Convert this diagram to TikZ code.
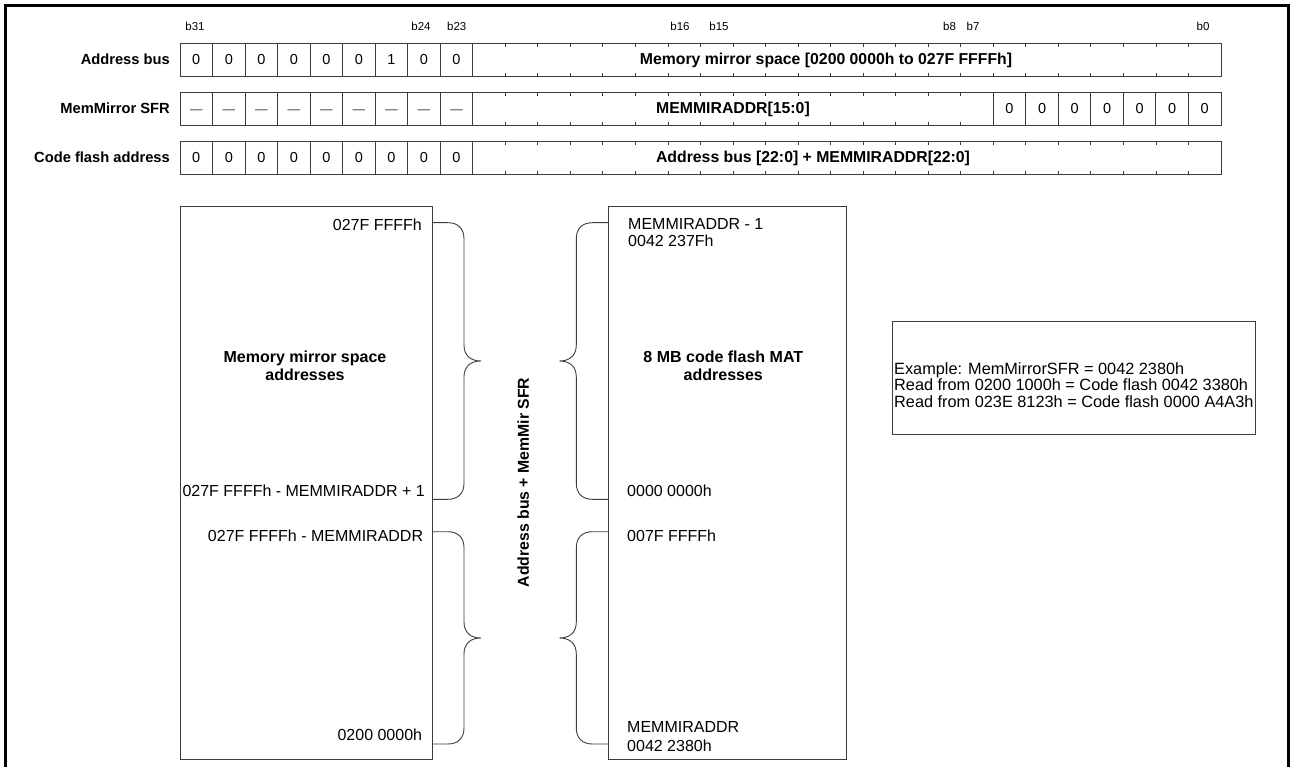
\documentclass[tikz,border=0pt]{standalone}
\usepackage{fontspec}
\setmainfont{Liberation Sans}
\definecolor{lc}{RGB}{60,60,60}
\definecolor{dc}{RGB}{50,50,50}
\newcommand{\mybrace}[5]{%
  \draw[bl] (#1,#3) -- ({#1+#2*16},#3) .. controls ({#1+#2*26},#3) and ({#1+#2*32},{#3+6}) .. ({#1+#2*32},{#3+16})
    -- ({#1+#2*32},{#4-16}) .. controls ({#1+#2*32},{#4-6}) and ({#1+#2*38},#4) .. ({#1+#2*49},#4)
    .. controls ({#1+#2*38},#4) and ({#1+#2*32},{#4+6}) .. ({#1+#2*32},{#4+16})
    -- ({#1+#2*32},{#5-16}) .. controls ({#1+#2*32},{#5-6}) and ({#1+#2*26},#5) .. ({#1+#2*16},#5) -- (#1,#5);}
\begin{document}
\begin{tikzpicture}[x=1pt,y=-1pt,
  cell/.style={draw=lc, line width=0.9pt, minimum width=32.53pt, minimum height=32.5pt, inner sep=0pt, outer sep=0pt, font=\fontsize{14.5}{16}\selectfont},
  dashtxt/.style={anchor=base, inner sep=0pt, text=dc, font=\fontsize{12.5}{14}\selectfont},
  tickline/.style={draw=lc, line width=0.8pt},
  bitlbl/.style={anchor=base, inner sep=0pt, font=\fontsize{11.5}{13}\selectfont},
  rowlbl/.style={anchor=base east, inner sep=0pt, font=\bfseries\fontsize{14.7}{16}\selectfont},
  mtxt/.style={anchor=base, inner sep=0pt, font=\bfseries\fontsize{15.8}{17}\selectfont},
  rtxt/.style={inner sep=0pt, font=\fontsize{16}{17}\selectfont},
  btxt/.style={anchor=base, inner sep=0pt, font=\bfseries\fontsize{16}{17}\selectfont},
  membox/.style={draw=lc, line width=0.9pt, inner sep=0pt, outer sep=0pt},
  bl/.style={draw=lc, line width=0.9pt}]
\useasboundingbox (0,0) rectangle (1290,767);
% outer frame
\draw[line width=2.8pt] (5.3,775) -- (5.3,5.3) -- (1288.4,5.3) -- (1288.4,775);
% bit labels
\node[bitlbl] (b31) at (195,31) {b31};
\node[bitlbl] (b24) at (421,31) {b24};
\node[bitlbl] (b23) at (456.7,31) {b23};
\node[bitlbl] (b16) at (680,31) {b16};
\node[bitlbl] (b15) at (719,31) {b15};
\node[bitlbl] (b8) at (949.5,31) {b8};
\node[bitlbl] (b7) at (973,31) {b7};
\node[bitlbl] (b0) at (1203,31) {b0};
% row labels
\node[rowlbl] (lab1) at (170,64.3) {Address bus};
\node[rowlbl] (lab2) at (170,113.3) {MemMirror SFR};
\node[rowlbl] (lab3) at (170,162.3) {Code flash address};
% row 1
\foreach \v [count=\i from 0] in {0,0,0,0,0,0,1,0,0}
  \node[cell] (ab\i) at ({180+(\i+0.5)*32.53},59.75) {\v};
\node[cell, minimum width=748.19pt] (abm) at (846.865,59.75) {};
\node[mtxt] (abt) at (826,64.5) {Memory mirror space [0200 0000h to 027F FFFFh]};
% row 2
\foreach \i in {0,...,8} {
  \node[cell] (mm\i) at ({180+(\i+0.5)*32.53},108.75) {};
  \node[dashtxt] (md\i) at ({180+(\i+0.5)*32.53},113.8) {—};
}
\node[cell, minimum width=520.48pt] (mmm) at (733.01,108.75) {};
\node[mtxt] (mmt) at (733,113.5) {MEMMIRADDR[15:0]};
\foreach \i in {25,...,31}
  \node[cell] (mz\i) at ({180+(\i+0.5)*32.53},108.75) {0};
% row 3
\foreach \i in {0,...,8}
  \node[cell] (cf\i) at ({180+(\i+0.5)*32.53},157.75) {0};
\node[cell, minimum width=748.19pt] (cfm) at (846.865,157.75) {};
\node[mtxt] (cft) at (813,162.5) {Address bus [22:0] + MEMMIRADDR[22:0]};
% ticks
\foreach \k in {10,...,31} {
  \draw[tickline] ({180+\k*32.53},43.5) -- ++(0,3.3);
  \draw[tickline] ({180+\k*32.53},76) -- ++(0,-3.3);
  \draw[tickline] ({180+\k*32.53},141.5) -- ++(0,3.3);
  \draw[tickline] ({180+\k*32.53},174) -- ++(0,-3.3);
}
\foreach \k in {10,...,24} {
  \draw[tickline] ({180+\k*32.53},92.5) -- ++(0,3.3);
  \draw[tickline] ({180+\k*32.53},125) -- ++(0,-3.3);
}
% memory boxes
\node[membox, minimum width=252pt, minimum height=553pt] (lbox) at (306,482.5) {};
\node[membox, minimum width=238.7pt, minimum height=553pt] (rbox) at (727.35,482.5) {};
% left box texts
\node[rtxt, anchor=base east] (l1) at (422,230.5) {027F FFFFh};
\node[btxt] (l2) at (305,362.5) {Memory mirror space};
\node[btxt] (l3) at (305,380) {addresses};
\node[rtxt, anchor=base east] (l4) at (425,496) {027F FFFFh - MEMMIRADDR + 1};
\node[rtxt, anchor=base east] (l5) at (423.3,541.7) {027F FFFFh - MEMMIRADDR};
\node[rtxt, anchor=base east] (l6) at (422.3,740) {0200 0000h};
% right box texts
\node[rtxt, anchor=base west] (r1) at (628,230) {MEMMIRADDR - 1};
\node[rtxt, anchor=base west] (r2) at (628,246.5) {0042 237Fh};
\node[btxt] (r3) at (723.3,362.5) {8 MB code flash MAT};
\node[btxt] (r4) at (723.3,380) {addresses};
\node[rtxt, anchor=base west] (r5) at (627,496) {0000 0000h};
\node[rtxt, anchor=base west] (r6) at (627,541.7) {007F FFFFh};
\node[rtxt, anchor=base west] (r7) at (627,732.7) {MEMMIRADDR};
\node[rtxt, anchor=base west] (r8) at (627,751) {0042 2380h};
% braces
\mybrace{432}{1}{222.7}{361}{499.3}
\mybrace{432}{1}{531.7}{638}{744}
\mybrace{608.3}{-1}{222.7}{361}{499.3}
\mybrace{608.3}{-1}{531.7}{638}{744}
% vertical text
\node[inner sep=0pt, rotate=90, text height=11.3pt, text depth=0pt, font=\bfseries\fontsize{15.8}{17}\selectfont] (vt) at (523.3,482.5) {Address bus + MemMir SFR};
% example box
\node[membox, minimum width=362.3pt, minimum height=112.3pt] (ex) at (1073.85,377.85) {};
\node[rtxt, anchor=base west, font=\fontsize{16.3}{17}\selectfont] (e1) at (894,374) {Example: MemMirrorSFR = 0042 2380h};
\node[rtxt, anchor=base west, font=\fontsize{16.3}{17}\selectfont] (e2) at (894,390.7) {Read from 0200 1000h = Code flash 0042 3380h};
\node[rtxt, anchor=base west, font=\fontsize{16.3}{17}\selectfont] (e3) at (894,407.3) {Read from 023E 8123h = Code flash 0000 A4A3h};
\end{tikzpicture}
\end{document}
